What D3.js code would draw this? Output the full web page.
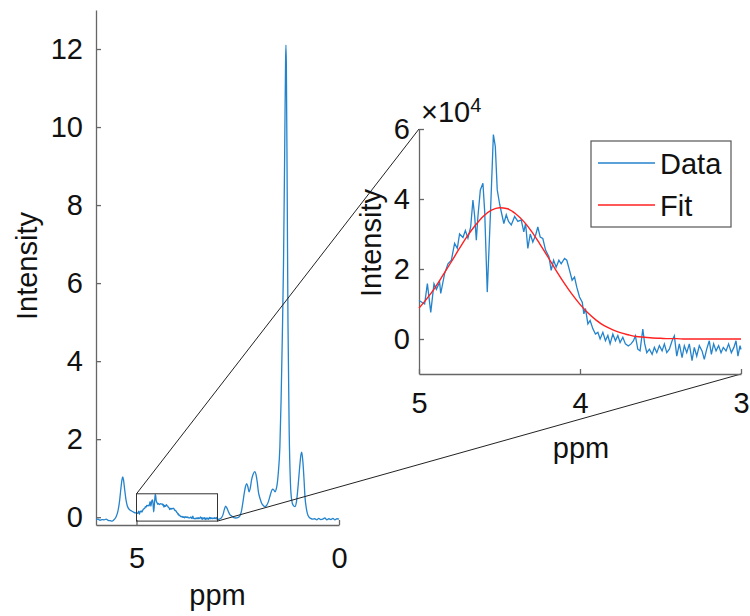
<!DOCTYPE html>
<html>
<head>
<meta charset="utf-8">
<script src="https://cdn.jsdelivr.net/npm/d3@7"></script>
<style>
  body { margin: 0; background: #fff; }
  svg { font-family: "Liberation Sans", Arial, Helvetica, sans-serif; }
</style>
</head>
<body>
<script>
// main spectrum, intensity in units of 1e5
const leftPpm = [6.00,5.95,5.90,5.85,5.80,5.75,5.70,5.65,5.60,5.55,5.50,5.46,5.42,5.39,5.36,5.34,5.32,5.29,5.26,5.23,5.18,5.12,5.07,5.03];
const leftVal = [-0.06,-0.05,-0.08,-0.06,-0.07,-0.05,-0.08,-0.09,-0.10,-0.06,0.02,0.15,0.40,0.69,0.95,1.03,0.95,0.69,0.45,0.30,0.20,0.16,0.13,0.11];

const rightPpm = [2.98,2.94,2.90,2.86,2.83,2.80,2.77,2.73,2.69,2.65,2.60,2.55,2.50,2.45,2.41,2.37,2.34,2.31,2.28,2.25,
  2.22,2.19,2.16,2.12,2.08,2.05,2.02,1.99,1.95,1.91,1.87,1.83,1.79,1.75,1.71,1.67,1.64,1.61,1.58,1.55,
  1.52,1.50,1.46,1.43,1.40,1.37,1.34,1.32,1.31,1.30,1.28,1.26,1.23,1.20,1.17,1.13,1.09,1.05,1.01,0.97,
  0.94,0.92,0.89,0.86,0.84,0.81,0.78,0.74,0.70,0.65,0.60,0.55,0.50,0.45,0.40,0.35,0.30,0.25,0.20,0.15,
  0.10,0.05,0.00];
const rightVal = [-0.06,-0.04,-0.01,0.08,0.20,0.28,0.24,0.14,0.06,0.03,-0.01,-0.02,-0.01,0.03,0.15,0.40,0.61,0.78,0.86,0.78,
  0.65,0.75,0.95,1.10,1.17,1.10,0.91,0.65,0.48,0.36,0.30,0.27,0.30,0.38,0.52,0.66,0.72,0.70,0.65,0.72,
  0.90,1.12,1.80,3.00,4.60,6.50,9.50,11.60,12.10,11.60,8.50,5.00,2.20,0.90,0.45,0.30,0.27,0.40,0.80,1.30,
  1.60,1.67,1.40,0.90,0.52,0.25,0.09,0.00,-0.03,-0.05,-0.04,-0.07,-0.03,-0.06,-0.05,-0.02,-0.07,-0.04,-0.06,-0.03,
  -0.07,-0.04,-0.05];

// zoomed region 5-3 ppm, intensity in units of 1e4
const insetPpm = [5.000,4.965,4.948,4.927,4.907,4.892,4.872,4.865,4.841,4.820,4.799,4.779,4.762,4.748,4.727,4.712,4.696,4.679,4.665,4.654,
  4.644,4.634,4.619,4.603,4.592,4.576,4.555,4.538,4.526,4.514,4.499,4.485,4.473,4.458,4.444,4.427,4.406,4.386,4.365,4.349,
  4.338,4.324,4.309,4.293,4.276,4.262,4.247,4.231,4.214,4.193,4.179,4.164,4.148,4.131,4.117,4.096,4.082,4.065,4.049,4.034,
  4.020,4.003,3.986,3.976,3.966,3.951,3.937,3.920,3.904,3.889,3.875,3.858,3.842,3.827,3.813,3.796,3.780,3.765,3.751,3.734,
  3.718,3.700,3.683,3.668,3.656,3.641,3.627,3.610,3.598,3.585,3.569,3.552,3.538,3.523,3.507,3.490,3.476,3.461,3.445,3.428,
  3.414,3.399,3.383,3.366,3.352,3.337,3.321,3.304,3.290,3.275,3.259,3.242,3.228,3.213,3.197,3.184,3.170,3.155,3.139,3.124,
  3.110,3.093,3.077,3.060,3.044,3.031,3.019,3.006,3.000];
const insetVal = [1.10,1.00,1.58,0.76,1.58,1.42,1.62,1.30,1.87,2.15,2.25,2.73,2.59,3.00,2.90,3.10,2.88,3.20,3.97,3.50,
  2.82,3.50,4.26,4.45,3.64,1.34,3.73,5.84,5.50,4.26,3.85,3.55,3.30,3.55,3.36,3.26,3.50,3.36,3.40,3.06,
  3.30,2.59,3.00,2.77,2.96,3.20,2.91,2.87,2.54,2.35,1.96,2.25,2.05,2.25,2.15,2.30,2.25,1.96,1.68,1.77,
  1.48,1.20,1.05,0.72,0.87,0.43,0.53,0.29,0.14,0.19,0.00,0.19,-0.05,0.10,-0.14,0.14,-0.05,0.10,-0.10,0.05,
  -0.14,-0.20,-0.14,-0.05,0.09,-0.29,-0.34,0.28,-0.14,-0.39,-0.29,-0.44,-0.24,-0.39,-0.19,-0.34,-0.14,-0.39,-0.29,-0.05,
  0.09,-0.49,-0.14,-0.53,-0.19,-0.39,-0.14,-0.62,-0.24,-0.49,-0.19,-0.34,-0.58,-0.29,-0.05,-0.44,-0.14,-0.34,-0.19,-0.39,
  -0.24,-0.34,-0.14,-0.39,-0.24,-0.05,-0.49,-0.19,-0.30];

const fitPpm = [5.00,4.95,4.90,4.85,4.80,4.75,4.70,4.65,4.60,4.55,4.50,4.45,4.40,4.35,4.30,4.25,4.20,4.15,4.10,4.05,
  4.00,3.95,3.90,3.85,3.80,3.75,3.70,3.65,3.60,3.55,3.50,3.45,3.40,3.35,3.30,3.25,3.20,3.15,3.10,3.05,3.00];
const fitVal = [0.88,1.16,1.47,1.83,2.20,2.58,2.94,3.25,3.51,3.68,3.75,3.72,3.58,3.36,3.07,2.72,2.35,1.97,1.61,1.28,
  0.99,0.74,0.54,0.38,0.27,0.18,0.12,0.07,0.05,0.03,0.02,0.01,0.01,0,0,0,0,0,0,0,0];

const mainXTicks = [5, 0];
const mainYTicks = [0, 2, 4, 6, 8, 10, 12];
const insetXTicks = [5, 4, 3];
const insetYTicks = [0, 2, 4, 6];
const zoomBox = {ppm: [5, 3], val: [-0.1, 0.6]};
const legendNames = ["Data", "Fit"];

const blue = "#2383cc", red = "#ff2020", axisCol = "#666";
const fs = 29;

const svg = d3.select("body").append("svg").attr("width", 750).attr("height", 616);

// Main plot
const xMain = d3.scaleLinear().domain([6, 0]).range([96, 339]);
const yMain = d3.scaleLinear().domain([-0.2, 13]).range([525, 10]);

function styleAxis(g) {
  g.select(".domain").attr("stroke", axisCol).attr("stroke-width", 1.3);
  g.selectAll(".tick line").attr("stroke", axisCol).attr("stroke-width", 1.3);
  g.selectAll(".tick text").attr("fill", "#111").style("font-size", fs + "px")
    .style("font-family", "Liberation Sans, Arial, sans-serif");
}

svg.append("g").attr("transform", "translate(0,525)")
  .call(d3.axisBottom(xMain).tickValues(mainXTicks).tickFormat(d3.format("d")).tickSizeInner(-5).tickSizeOuter(0).tickPadding(22))
  .call(styleAxis);
svg.append("g").attr("transform", "translate(96,0)")
  .call(d3.axisLeft(yMain).tickValues(mainYTicks).tickFormat(d3.format("d")).tickSizeInner(-5).tickSizeOuter(0).tickPadding(13))
  .call(styleAxis);

const mainData = [];
leftPpm.forEach((p, i) => mainData.push([p, leftVal[i]]));
insetPpm.forEach((p, i) => { if (p < 5.03) mainData.push([p, insetVal[i] / 10]); });
rightPpm.forEach((p, i) => mainData.push([p, rightVal[i]]));

svg.append("path").datum(mainData)
  .attr("fill", "none").attr("stroke", blue).attr("stroke-width", 1.3)
  .attr("d", d3.line().x(d => xMain(d[0])).y(d => yMain(d[1])).curve(d3.curveMonotoneX));

svg.append("text").attr("transform", "translate(37,266) rotate(-90)")
  .attr("text-anchor", "middle").style("font-size", fs + "px").attr("fill", "#111").text("Intensity");
svg.append("text").attr("x", 217.5).attr("y", 605)
  .attr("text-anchor", "middle").style("font-size", fs + "px").attr("fill", "#111").text("ppm");

// Inset
const xIn = d3.scaleLinear().domain([5, 3]).range([419, 741]);
const yIn = d3.scaleLinear().domain([-1, 6]).range([374, 129]);

// zoom box and connectors
svg.append("rect")
  .attr("x", xMain(zoomBox.ppm[0])).attr("y", yMain(zoomBox.val[1]))
  .attr("width", xMain(zoomBox.ppm[1]) - xMain(zoomBox.ppm[0]))
  .attr("height", yMain(zoomBox.val[0]) - yMain(zoomBox.val[1]))
  .attr("fill", "none").attr("stroke", "#333").attr("stroke-width", 1);
svg.append("line")
  .attr("x1", xMain(zoomBox.ppm[0])).attr("y1", yMain(zoomBox.val[1]))
  .attr("x2", xIn(5)).attr("y2", yIn(6))
  .attr("stroke", "#222").attr("stroke-width", 1);
svg.append("line")
  .attr("x1", xMain(zoomBox.ppm[1])).attr("y1", yMain(zoomBox.val[0]))
  .attr("x2", xIn(3)).attr("y2", yIn(-1))
  .attr("stroke", "#222").attr("stroke-width", 1);

svg.append("g").attr("transform", "translate(0,374)")
  .call(d3.axisBottom(xIn).tickValues(insetXTicks).tickFormat(d3.format("d")).tickSizeInner(-5).tickSizeOuter(0).tickPadding(18))
  .call(styleAxis);
svg.append("g").attr("transform", "translate(419,0)")
  .call(d3.axisLeft(yIn).tickValues(insetYTicks).tickFormat(d3.format("d")).tickSizeInner(-5).tickSizeOuter(0).tickPadding(9))
  .call(styleAxis);

svg.append("path").datum(insetPpm.map((p, i) => [p, insetVal[i]]))
  .attr("fill", "none").attr("stroke", blue).attr("stroke-width", 1.3)
  .attr("d", d3.line().x(d => xIn(d[0])).y(d => yIn(d[1])));
svg.append("path").datum(fitPpm.map((p, i) => [p, fitVal[i]]))
  .attr("fill", "none").attr("stroke", red).attr("stroke-width", 1.4)
  .attr("d", d3.line().x(d => xIn(d[0])).y(d => yIn(d[1])).curve(d3.curveMonotoneX));

const expo = svg.append("text").attr("x", 421).attr("y", 122).attr("fill", "#111");
expo.append("tspan").style("font-size", "29px").text("×10");
expo.append("tspan").style("font-size", "20px").attr("dy", -10).text("4");

svg.append("text").attr("transform", "translate(381,243) rotate(-90)")
  .attr("text-anchor", "middle").style("font-size", fs + "px").attr("fill", "#111").text("Intensity");
svg.append("text").attr("x", 581).attr("y", 458)
  .attr("text-anchor", "middle").style("font-size", fs + "px").attr("fill", "#111").text("ppm");

// legend
const leg = svg.append("g");
leg.append("rect").attr("x", 591).attr("y", 141).attr("width", 140).attr("height", 86)
  .attr("fill", "#fff").attr("stroke", "#555").attr("stroke-width", 1.2);
[blue, red].forEach((c, i) => {
  const y = 163 + i * 42;
  leg.append("line").attr("x1", 598).attr("x2", 655).attr("y1", y).attr("y2", y)
    .attr("stroke", c).attr("stroke-width", 1.4);
  leg.append("text").attr("x", 660).attr("y", y + 10.5).style("font-size", fs + "px").attr("fill", "#111").text(legendNames[i]);
});
</script>
</body>
</html>
